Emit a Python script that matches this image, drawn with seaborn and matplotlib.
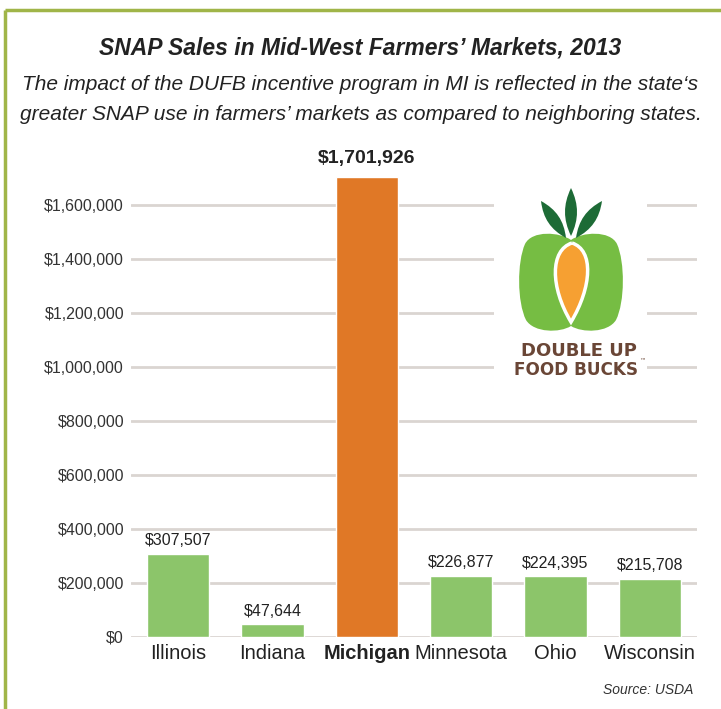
import matplotlib
matplotlib.use("Agg")
import matplotlib.pyplot as plt
import seaborn as sns
import pandas as pd
from matplotlib.path import Path
from matplotlib.patches import PathPatch, Rectangle
from matplotlib.ticker import FuncFormatter

# Dados
estados = ["Illinois", "Indiana", "Michigan", "Minnesota", "Ohio", "Wisconsin"]
vendas = [307507, 47644, 1701926, 226877, 224395, 215708]
rotulos = ["$307,507", "$47,644", "$1,701,926", "$226,877", "$224,395", "$215,708"]
ticks_y = [0, 200000, 400000, 600000, 800000, 1000000, 1200000, 1400000, 1600000]

sns.set_style("white")
plt.rcParams["font.family"] = ["Liberation Sans", "DejaVu Sans"]

df = pd.DataFrame({"estado": estados, "vendas": vendas})
cores = {e: "#8cc56a" for e in estados}
cores["Michigan"] = "#e07826"

fig = plt.figure(figsize=(7.21, 7.09), dpi=100)
ax = fig.add_axes([131 / 721, 72 / 709, 566 / 721, 473 / 709])

sns.barplot(data=df, x="estado", y="vendas", hue="estado", palette=cores,
            legend=False, width=0.66, saturation=1, ax=ax, zorder=3)

ax.set_xlim(-0.5, 5.5)
ax.set_ylim(0, 1750000)
ax.set_yticks(ticks_y)
ax.yaxis.set_major_formatter(FuncFormatter(lambda v, _: f"${v:,.0f}"))
ax.grid(axis="y", color="#dad5d1", linewidth=2, zorder=0)
ax.set_axisbelow(True)
sns.despine(ax=ax, left=True, bottom=True)
ax.tick_params(axis="y", length=0, pad=5, labelsize=11.5, labelcolor="#333333")
ax.tick_params(axis="x", length=0, pad=5, labelsize=14.5, labelcolor="#222222")
ax.set_xlabel("")
ax.set_ylabel("")
for lbl in ax.get_xticklabels():
    if lbl.get_text() == "Michigan":
        lbl.set_fontweight("bold")

# valores acima das barras
for i, (v, r) in enumerate(zip(vendas, rotulos)):
    destaque = estados[i] == "Michigan"
    ax.annotate(r, (i, v), xytext=(0, 7 if destaque else 4), textcoords="offset points",
                ha="center", va="bottom", fontsize=14 if destaque else 11.5,
                fontweight="bold" if destaque else "normal", color="#222222")

# títulos
fig.text(0.5, 1 - 48 / 709, "SNAP Sales in Mid-West Farmers\u2019 Markets, 2013",
         ha="center", va="center", fontsize=16.5, fontweight="bold", style="italic", color="#222222")
fig.text(0.5, 1 - 84 / 709, "The impact of the DUFB incentive program in MI is reflected in the state\u2018s",
         ha="center", va="center", fontsize=15, style="italic", color="#222222")
fig.text(0.5, 1 - 114 / 709, "greater SNAP use in farmers\u2019 markets as compared to neighboring states.",
         ha="center", va="center", fontsize=15, style="italic", color="#222222")
fig.text(693 / 721, 1 - 690 / 709, "Source: USDA", ha="right", va="center",
         fontsize=10, style="italic", color="#333333")

# camada em pixels para moldura e logo
ov = fig.add_axes([0, 0, 1, 1], zorder=5)
ov.set_xlim(0, 721)
ov.set_ylim(709, 0)
ov.axis("off")
ov.patch.set_alpha(0)

verde_borda = "#a0b548"
ov.plot([5, 5], [10, 709], color=verde_borda, linewidth=2.5, solid_capstyle="butt")
ov.plot([5, 721], [10, 10], color=verde_borda, linewidth=2.5, solid_capstyle="butt")

# logo Double Up Food Bucks
ov.add_patch(Rectangle((494, 184), 153, 212, facecolor="white", edgecolor="none"))

C = Path.CURVE4
maca = Path(
    [(571, 240),
     (560, 232), (532, 230), (525, 244),
     (517, 262), (517, 302), (526, 320),
     (534, 333), (560, 333), (571, 326),
     (582, 333), (608, 333), (616, 320),
     (625, 302), (625, 262), (617, 244),
     (610, 230), (582, 232), (571, 240)],
    [Path.MOVETO] + [C] * 18)
ov.add_patch(PathPatch(maca, facecolor="#76bd43", edgecolor="none"))

cenoura = Path(
    [(572, 243),
     (550, 250), (550, 287), (571, 322),
     (592, 287), (594, 250), (572, 243)],
    [Path.MOVETO] + [C] * 6)
ov.add_patch(PathPatch(cenoura, facecolor="#f6a032", edgecolor="white", linewidth=2.5))


def folha(base, ponta, larg):
    bx, by = base
    tx, ty = ponta
    dx, dy = tx - bx, ty - by
    n = (dx * dx + dy * dy) ** 0.5
    px, py = -dy / n * larg, dx / n * larg
    m1 = (bx + dx * 0.35 + px, by + dy * 0.35 + py)
    m2 = (bx + dx * 0.65 + px, by + dy * 0.65 + py)
    m3 = (bx + dx * 0.65 - px, by + dy * 0.65 - py)
    m4 = (bx + dx * 0.35 - px, by + dy * 0.35 - py)
    return Path([base, m1, m2, ponta, m3, m4, base], [Path.MOVETO] + [C] * 6)


for b, t in [((571, 236), (571, 188)), ((566, 238), (541, 201)), ((576, 238), (602, 201))]:
    ov.add_patch(PathPatch(folha(b, t, 8), facecolor="#1d6b36", edgecolor="none"))

marrom = "#6a4636"
ov.text(579, 351, "DOUBLE UP", ha="center", va="center", fontsize=13,
        fontweight="heavy", color=marrom, family="DejaVu Sans")
ov.text(576, 370, "FOOD BUCKS", ha="center", va="center", fontsize=12.2,
        fontweight="heavy", color=marrom, family="DejaVu Sans")
ov.text(639, 362, "\u2122", ha="left", va="center", fontsize=4.5, color=marrom, family="DejaVu Sans")

fig.savefig("out.png", dpi=100, facecolor="white")
